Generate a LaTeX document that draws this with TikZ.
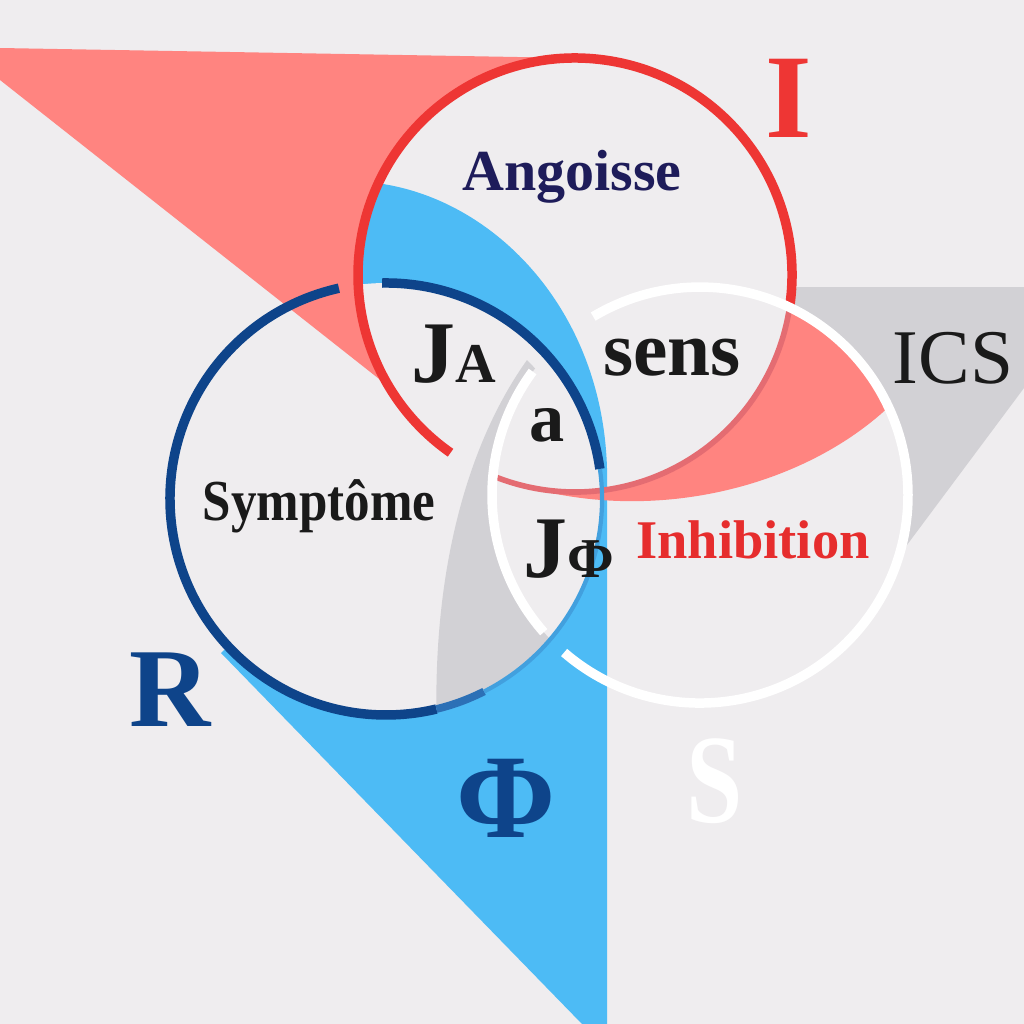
\documentclass[tikz,border=0pt]{standalone}
\usepackage{fontspec}
\setmainfont{Liberation Serif}
\usetikzlibrary{positioning}
\definecolor{bgc}{RGB}{239,237,239}
\definecolor{salmon}{RGB}{255,132,128}
\definecolor{redc}{RGB}{238,54,52}
\definecolor{pinkc}{RGB}{228,108,114}
\definecolor{skyb}{RGB}{77,187,245}
\definecolor{darkb}{RGB}{14,68,138}
\definecolor{midb}{RGB}{44,112,182}
\definecolor{edgeb}{RGB}{66,160,222}
\definecolor{grayf}{RGB}{210,209,213}
\definecolor{navy}{RGB}{30,28,90}
\definecolor{inkc}{RGB}{26,26,26}
\definecolor{redtxt}{RGB}{230,45,45}
\tikzstyle{ring}=[line width=2.7pt]
\tikzstyle{lab}=[inner sep=0pt,anchor=base,font=\bfseries]

\begin{document}
\begin{tikzpicture}[x=0.01cm,y=-0.01cm]
\useasboundingbox (0,0) rectangle (1024,1024);
\fill[bgc] (0,0) rectangle (1024,1024);
% blue band and wedge
\fill[skyb] (378.3,183.3) .. controls (500,200) and (612,320) .. (607,490) -- (607,1024) -- (582,1024) -- (221,653) -- (386,499) -- (358.1,282.6) arc[start angle=-182,end angle=-155,radius=217] -- cycle;
\fill[bgc] (386,499) circle[radius=216];
% pink wedge top left
\fill[salmon] (0,48) -- (575,58) arc[start angle=-90,end angle=-211,radius=217] -- (0,80) -- cycle;
% grey sail and grey wedge
\fill[grayf] (527,360) .. controls (470,440) and (435,560) .. (436.4,709.0) arc[start angle=-283.5,end angle=-319.5,radius=216] arc[start angle=-223.9,end angle=-142.5,radius=208] -- cycle;
\fill[grayf] (797,287) -- (1024,287) -- (1024,388) -- (898.9,555.8) arc[start angle=17,end angle=-64.5,radius=208] -- cycle;
% pink band
\fill[salmon] (789.5,307.3) arc[start angle=-64.5,end angle=-25,radius=208] .. controls (800,490) and (640,530) .. (497.2,477.6) arc[start angle=-249,end angle=-352,radius=217] -- cycle;
\draw[pinkc,line width=1.6pt] (497.2,477.6) arc[start angle=-249,end angle=-352,radius=217];
% rings
\draw[redc,ring] (789.9,305.2) arc[start angle=8,end angle=-235,radius=217];
\draw[darkb,ring] (382.2,283.0) arc[start angle=-91,end angle=-8,radius=216];
\draw[darkb,ring] (338.9,288.2) arc[start angle=-102.6,end angle=-283.5,radius=216];
\draw[midb,line width=2.2pt] (436.4,709.0) arc[start angle=-283.5,end angle=-297,radius=216];
\draw[edgeb,line width=1.2pt] (484.1,691.5) arc[start angle=-297,end angle=-368,radius=216];
\draw[white,ring] (532.6,371.5) arc[start angle=-143.6,end angle=-221.3,radius=208];
\draw[white,ring] (564.1,652.5) arc[start angle=-229.2,end angle=-480.9,radius=208];
% labels
\node[lab,redc,font=\bfseries\fontsize{34}{34}\selectfont] (imag) at (789,137) {I};
\node[lab,navy,font=\bfseries\fontsize{16.5}{18}\selectfont] (ang) at (572,190) {Angoisse};
\node[lab,inkc,anchor=base west] (ja) at (411,382) {{\fontsize{25}{25}\selectfont J}{\fontsize{16}{16}\selectfont A}};
\node[lab,inkc,font=\bfseries\fontsize{22}{22}\selectfont] (sens) at (672,375) {sens};
\node[lab,inkc,font=\fontsize{22}{22}\selectfont] (ics) at (953,383) {ICS};
\node[lab,inkc,font=\bfseries\fontsize{20}{20}\selectfont] (obj) at (547,441) {a};
\node[lab,inkc,font=\bfseries\fontsize{16.5}{18}\selectfont] (sym) at (319,520) {\scalebox{0.88}[1]{Symptôme}};
\node[lab,inkc,anchor=base west] (jphi) at (523,577) {{\fontsize{25}{25}\selectfont J}{\fontsize{16}{16}\selectfont Φ}};
\node[lab,redtxt,font=\bfseries\fontsize{15.5}{17}\selectfont] (inh) at (753,558) {Inhibition};
\node[lab,darkb,font=\bfseries\fontsize{32}{32}\selectfont] (real) at (170,726) {R};
\node[lab,darkb,font=\bfseries\fontsize{34}{34}\selectfont] (phi) at (506,837) {Φ};
\node[lab,white,font=\bfseries\fontsize{36}{36}\selectfont] (symb) at (715,822) {\scalebox{0.8}[1]{S}};
\end{tikzpicture}
\end{document}
